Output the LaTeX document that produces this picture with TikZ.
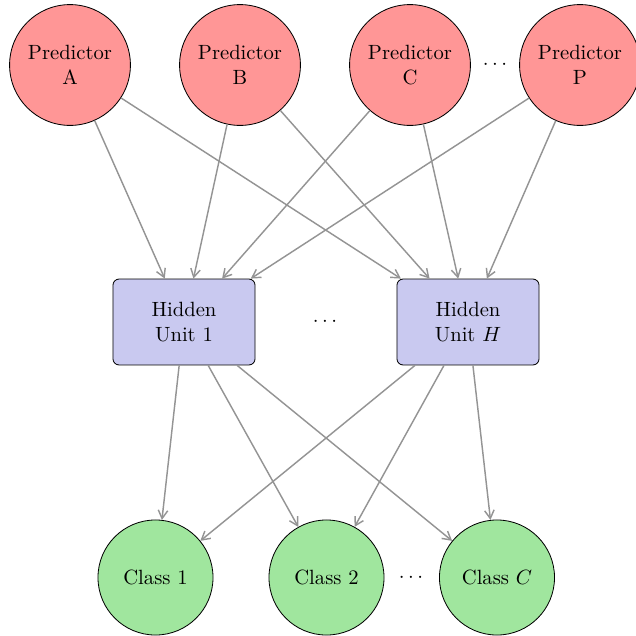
\documentclass[tikz,border=0pt]{standalone}
\usetikzlibrary{arrows.meta}
\definecolor{predred}{RGB}{255,150,150}
\definecolor{hidblue}{RGB}{201,201,240}
\definecolor{clsgreen}{RGB}{160,230,158}
\begin{document}
\begin{tikzpicture}[x=0.485pt,y=-0.485pt,
  pred/.style={circle,draw=black,fill=predred,minimum size=58.6pt,inner sep=0pt,align=center},
  hid/.style={rectangle,rounded corners=3pt,draw=black,fill=hidblue,minimum width=68.9pt,minimum height=41.7pt,inner sep=0pt,align=center},
  cls/.style={circle,draw=black,fill=clsgreen,minimum size=55.8pt,inner sep=0pt},
  conn/.style={-{Straight Barb[length=4pt,width=4.6pt]},draw=black!42,line width=0.7pt},
]
\useasboundingbox (0,0) rectangle (636,636);
\node[pred] (pa) at (70,65) {Predictor\\A};
\node[pred] (pb) at (240,65) {Predictor\\B};
\node[pred] (pc) at (410,65) {Predictor\\C};
\node[pred] (pp) at (580,65) {Predictor\\P};
\node (pdots) at (495,65) {$\cdots$};

\node[hid] (h1) at (184,322) {Hidden\\Unit 1};
\node[hid] (hh) at (468,322) {Hidden\\Unit $H$};
\node (hdots) at (325,322) {$\cdots$};

\node[cls] (c1) at (155.5,577.5) {Class 1};
\node[cls] (c2) at (326.5,577.5) {Class 2};
\node[cls] (cc) at (497,577.5) {Class $C$};
\node (cdots) at (411,577.5) {$\cdots$};

\foreach \p in {pa,pb,pc,pp}{
  \foreach \h in {h1,hh}{
    \draw[conn] (\p) -- (\h);
  }
}
\foreach \h in {h1,hh}{
  \foreach \c in {c1,c2,cc}{
    \draw[conn] (\h) -- (\c);
  }
}
\end{tikzpicture}
\end{document}
